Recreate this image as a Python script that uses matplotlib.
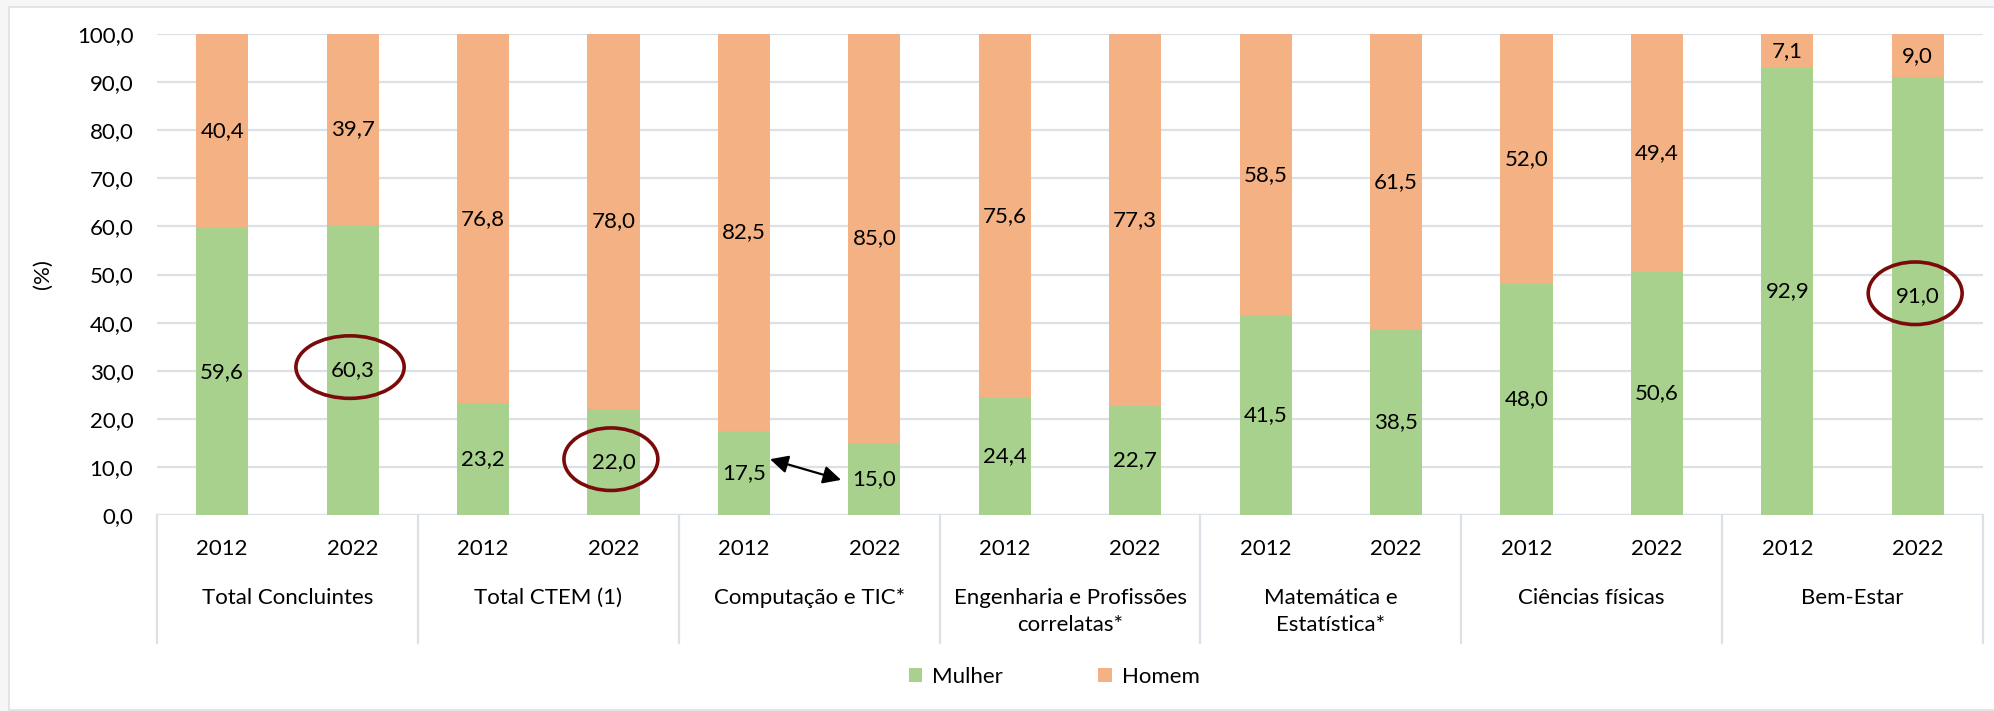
import matplotlib.pyplot as plt
from matplotlib.patches import Ellipse, Rectangle, Patch
from matplotlib.ticker import FuncFormatter
from matplotlib.transforms import blended_transform_factory

plt.rcParams['font.family'] = ['Lato', 'DejaVu Sans']

categories = ['Total Concluintes', 'Total CTEM (1)', 'Computação e TIC*',
              'Engenharia e Profissões\ncorrelatas*', 'Matemática e\nEstatística*',
              'Ciências físicas', 'Bem-Estar']
years = ['2012', '2022']
mulher = [59.6, 60.3, 23.2, 22.0, 17.5, 15.0, 24.4, 22.7, 41.5, 38.5, 48.0, 50.6, 92.9, 91.0]
homem = [40.4, 39.7, 76.8, 78.0, 82.5, 85.0, 75.6, 77.3, 58.5, 61.5, 52.0, 49.4, 7.1, 9.0]
# bars whose female share gets circled
destaques = [1, 3, 13]

GREEN = '#A9D18E'
ORANGE = '#F4B183'
GRID = '#DCE1E8'
RED = '#7B0A0A'
FS = 16

fig = plt.figure(figsize=(19.94, 7.11), dpi=100)
fig.patch.set_facecolor('#F6F6F6')
fig.patches.append(Rectangle((9 / 1994, 1 / 711), 1, 703 / 711, transform=fig.transFigure,
                             facecolor='white', edgecolor=GRID, linewidth=1.2, zorder=-10))

ax = fig.add_axes([157 / 1994, 1 - 515 / 711, 1826 / 1994, 481 / 711])
ax.set_facecolor('none')

x = list(range(len(mulher)))
ax.bar(x, mulher, width=0.40, color=GREEN, zorder=2, label='Mulher')
ax.bar(x, homem, width=0.40, bottom=mulher, color=ORANGE, zorder=2, label='Homem')

fmt = lambda v: f'{v:.1f}'.replace('.', ',')
for i, (m, h) in enumerate(zip(mulher, homem)):
    ax.text(i, m / 2, fmt(m), ha='center', va='center', fontsize=FS, zorder=4)
    ax.text(i, m + h / 2, fmt(h), ha='center', va='center', fontsize=FS, zorder=4)

ax.set_xlim(-0.5, len(mulher) - 0.5)
ax.set_ylim(0, 100)
ax.set_yticks(range(0, 101, 10))
ax.yaxis.set_major_formatter(FuncFormatter(lambda v, _: fmt(v)))
ax.tick_params(axis='y', length=0, pad=17, labelsize=FS)
ax.set_xticks([])
ax.grid(axis='y', color=GRID, linewidth=1.6, zorder=1)
for s in ax.spines.values():
    s.set_visible(False)
ax.axhline(0, color=GRID, linewidth=1.6, zorder=1)
ax.set_ylabel('(%)', fontsize=FS)
ax.yaxis.set_label_coords(-0.057, 0.5)

# two-level category axis below the plot
tr = blended_transform_factory(ax.transData, ax.transAxes)
for i in x:
    ax.text(i, -0.0707, years[i % 2], ha='center', va='center', fontsize=FS,
            transform=tr, clip_on=False)
for g, cat in enumerate(categories):
    ax.text(2 * g + 0.5, -0.152, cat, ha='center', va='top', fontsize=FS,
            linespacing=1.45, transform=tr, clip_on=False)
for g in range(len(categories) + 1):
    ax.plot([2 * g - 0.5] * 2, [0, -0.266], color=GRID, linewidth=1.6,
            transform=tr, clip_on=False)

# circled highlights and arrow
for i in destaques:
    w = 0.83 if i == 1 else 0.72
    ax.add_patch(Ellipse((i - 0.02, mulher[i] / 2 + 0.6), w, 13.0, fill=False,
                         edgecolor=RED, linewidth=2.6, zorder=5))
ax.annotate('', xy=(4.745, 7.3), xytext=(4.2, 11.6),
            arrowprops=dict(arrowstyle='<|-|>,head_length=0.9,head_width=0.45',
                            mutation_scale=12, color='black', lw=1.6,
                            shrinkA=0, shrinkB=0), zorder=5)

handles = [Patch(facecolor=GREEN, label='Mulher'), Patch(facecolor=ORANGE, label='Homem')]
fig.legend(handles=handles, loc='center', bbox_to_anchor=(1054 / 1994, 1 - 677 / 711),
           ncol=2, frameon=False, fontsize=FS, handlelength=0.6, handleheight=0.6,
           handletextpad=0.45, columnspacing=4.3, borderpad=0)

fig.savefig('out.png', dpi=100, facecolor=fig.get_facecolor())
